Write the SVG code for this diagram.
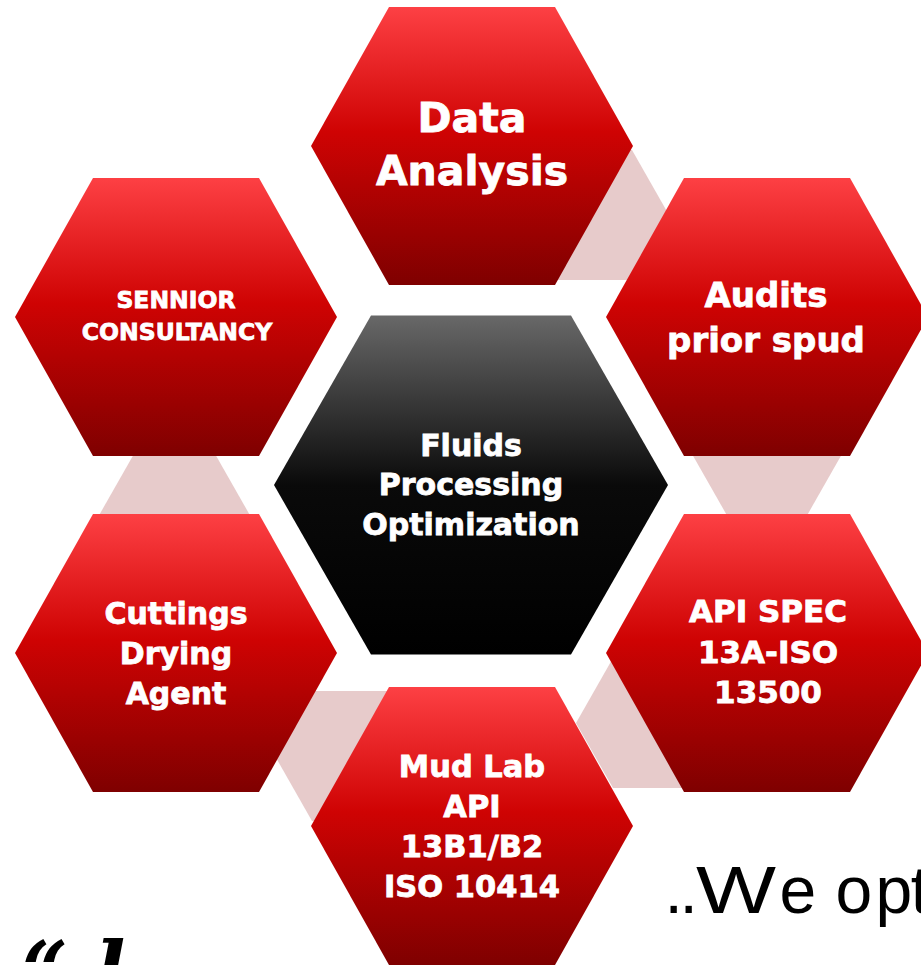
<svg xmlns="http://www.w3.org/2000/svg" width="921" height="965" viewBox="0 0 921 965">
  <defs>
    <linearGradient id="redGrad" x1="0" y1="0" x2="0" y2="1">
      <stop offset="0" stop-color="#fd4044"/>
      <stop offset="0.45" stop-color="#cf0303"/>
      <stop offset="1" stop-color="#7f0000"/>
    </linearGradient>
    <linearGradient id="darkGrad" x1="0" y1="0" x2="0" y2="1">
      <stop offset="0" stop-color="#686868"/>
      <stop offset="0.5" stop-color="#0a0a0a"/>
      <stop offset="1" stop-color="#000000"/>
    </linearGradient>
    <polygon id="hexOuter" points="-161,0 -83,-139 83,-139 161,0 83,139 -83,139"/>
    <polygon id="hexCore" points="-197,0 -100,-169.5 100,-169.5 197,0 100,169.5 -100,169.5"/>
    <polygon id="hexLink" points="-75,0 -38,-65 38,-65 75,0 38,65 -38,65"/>
  </defs>
  <style>
    .outer { fill: url(#redGrad); }
    .core { fill: url(#darkGrad); }
    .link { fill: #e7cbcb; }
    .label { font-family: "DejaVu Sans", "Liberation Sans", sans-serif; font-weight: bold; fill: #ffffff; stroke: #ffffff; stroke-width: 0.8; text-anchor: middle; }
  </style>
  <rect width="921" height="965" fill="#ffffff"/>

  <!-- small pale hexagons linking neighbouring outer cells -->
  <g id="connectors">
    <use href="#hexLink" class="link" x="594" y="215"/>
    <use href="#hexLink" class="link" x="767" y="454"/>
    <use href="#hexLink" class="link" x="651" y="723"/>
    <use href="#hexLink" class="link" x="350" y="756"/>
    <use href="#hexLink" class="link" x="174.5" y="514.5"/>
  </g>

  <g id="data-analysis">
    <use href="#hexOuter" class="outer" x="472" y="146"/>
    <text class="label" font-size="41"><tspan x="472" y="132">Data</tspan><tspan x="472" y="185">Analysis</tspan></text>
  </g>

  <g id="audits">
    <use href="#hexOuter" class="outer" x="767" y="317"/>
    <text class="label" font-size="34"><tspan x="766" y="307">Audits</tspan><tspan x="766" y="352">prior spud</tspan></text>
  </g>

  <g id="api-spec">
    <use href="#hexOuter" class="outer" x="767" y="653"/>
    <text class="label" font-size="31"><tspan x="768" y="622">API SPEC</tspan><tspan x="768" y="663">13A-ISO</tspan><tspan x="768" y="703">13500</tspan></text>
  </g>

  <g id="mud-lab">
    <use href="#hexOuter" class="outer" x="472" y="826"/>
    <text class="label" font-size="30.5"><tspan x="472" y="777">Mud Lab</tspan><tspan x="472" y="817">API</tspan><tspan x="472" y="857">13B1/B2</tspan><tspan x="472" y="897">ISO 10414</tspan></text>
  </g>

  <g id="cuttings">
    <use href="#hexOuter" class="outer" x="176" y="653"/>
    <text class="label" font-size="30"><tspan x="176" y="624">Cuttings</tspan><tspan x="176" y="664">Drying</tspan><tspan x="176" y="704">Agent</tspan></text>
  </g>

  <g id="consultancy">
    <use href="#hexOuter" class="outer" x="176" y="317"/>
    <text class="label" font-size="23.5"><tspan x="176" y="308">SENNIOR</tspan><tspan x="177" y="340">CONSULTANCY</tspan></text>
  </g>

  <g id="core">
    <use href="#hexCore" class="core" x="471" y="485"/>
    <text class="label" font-size="30"><tspan x="471" y="456">Fluids</tspan><tspan x="471" y="495">Processing</tspan><tspan x="471" y="535">Optimization</tspan></text>
  </g>

  <!-- tagline and script text running off the page edges -->
  <text font-family="Liberation Sans, Arial, sans-serif" font-size="66" fill="#000000" y="913"><tspan x="664.5 679.5">..</tspan><tspan x="696" textLength="80" lengthAdjust="spacingAndGlyphs">W</tspan><tspan x="779.4 815 835.4 875.6 910.7">e opt</tspan></text>
  <text font-family="DejaVu Serif, Liberation Serif, serif" font-style="italic" font-weight="bold" font-size="80" fill="#000000" y="999"><tspan x="22">“</tspan><tspan x="95">l</tspan></text>
</svg>
